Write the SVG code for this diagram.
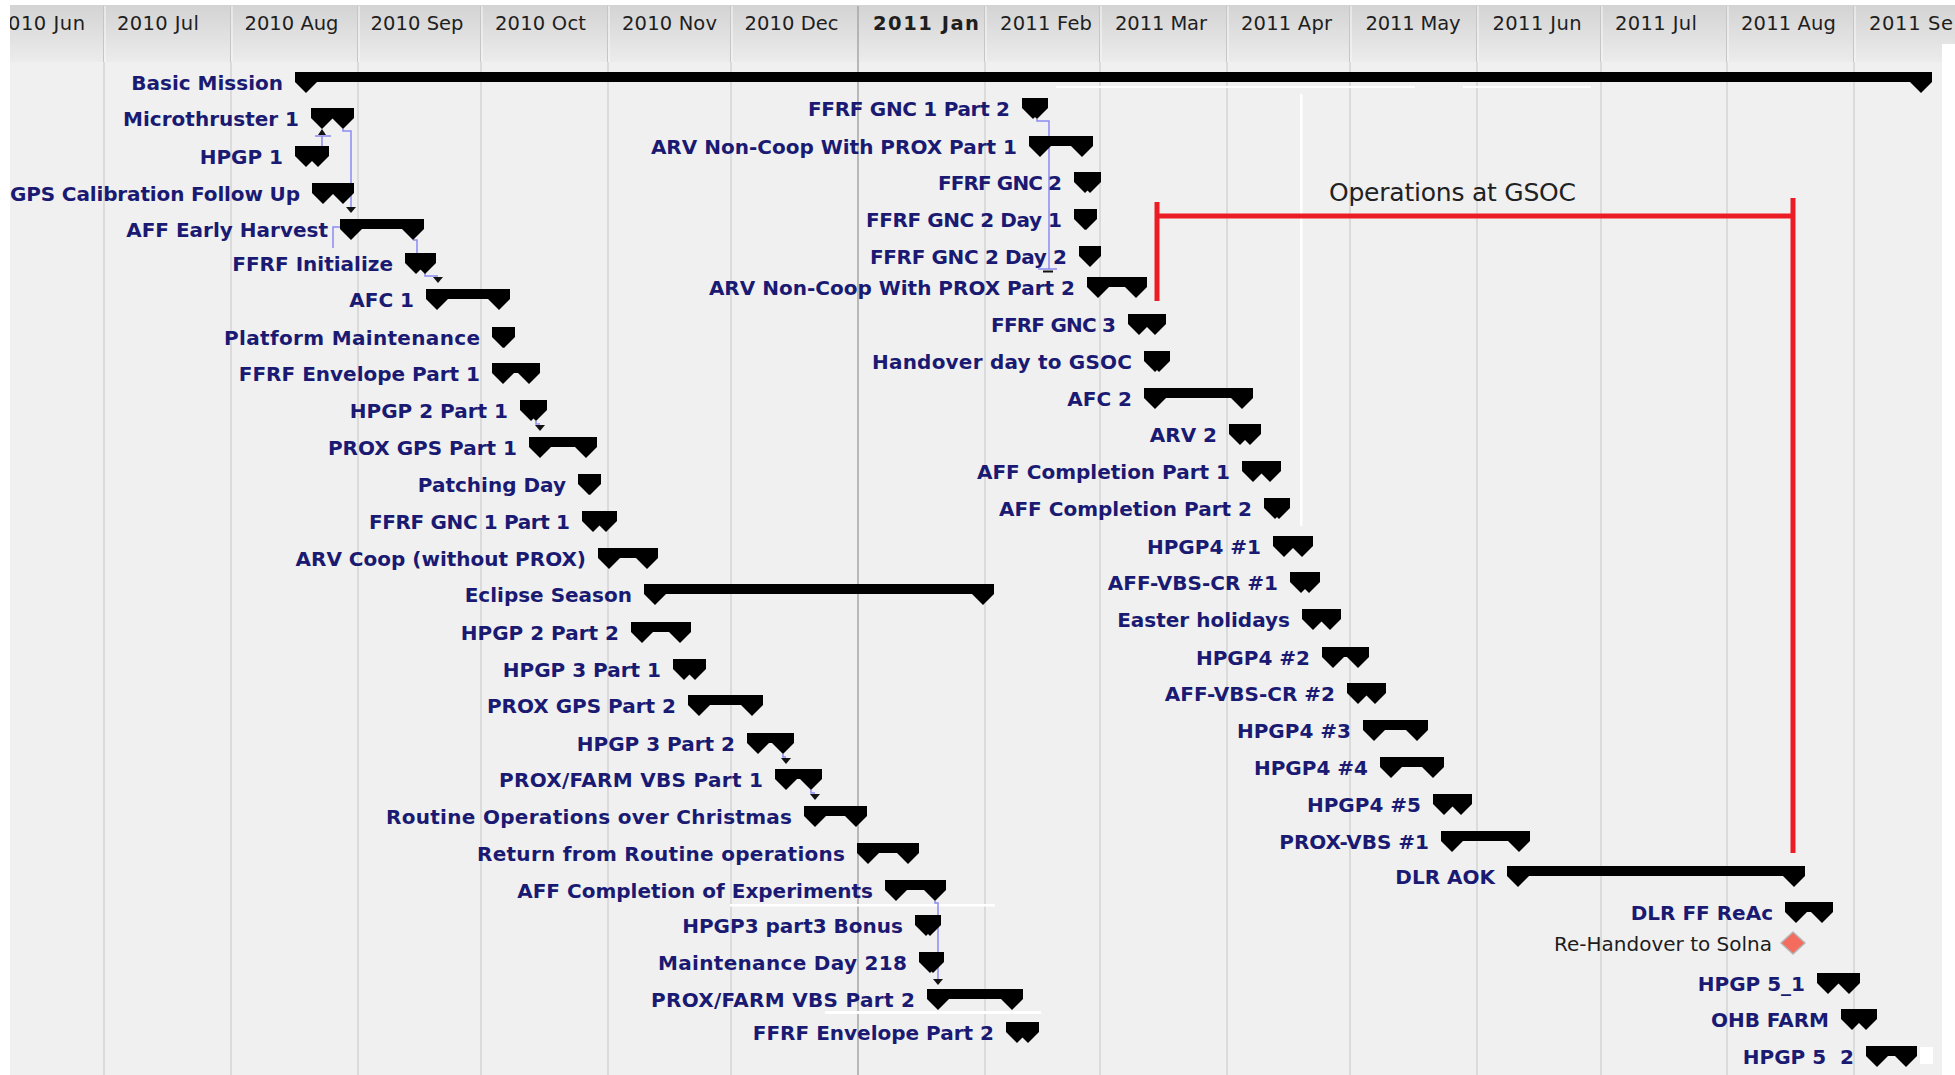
<svg xmlns="http://www.w3.org/2000/svg" width="1955" height="1075" viewBox="0 0 1955 1075">
<defs>
<linearGradient id="hdr" x1="0" y1="0" x2="0" y2="1">
<stop offset="0" stop-color="#d3d3d3"/>
<stop offset="1" stop-color="#ececec"/>
</linearGradient>
<path id="cap" d="M0,0 H22 V10 L11,21 L0,10 Z"/>
<style>
.lbl{font-family:"DejaVu Sans","Liberation Sans",sans-serif;font-weight:bold;font-size:20px;fill:#1a1a72;text-anchor:end}
.mon{font-family:"DejaVu Sans","Liberation Sans",sans-serif;font-size:19.5px;fill:#1e1e1e}
.reg{font-family:"DejaVu Sans","Liberation Sans",sans-serif;font-size:20px;fill:#1c1c1c}
.bar{fill:#000}
.grid{stroke:#d5d5d5;stroke-width:1.5}
.hsep{stroke:#c6c6c6;stroke-width:1}
.hsepl{stroke:#f8f8f8;stroke-width:1}
.dep{fill:none;stroke:#8a8af2;stroke-width:1.5}
.arr{fill:#111}
.ops{fill:none;stroke:#ec1c24;stroke-width:5}
.wht{fill:#ffffff}
</style>
</defs>

<!-- background -->
<rect x="0" y="0" width="1955" height="1075" fill="#ffffff"/>
<rect x="10" y="5" width="1932" height="1070" fill="#f0f0f0"/>
<rect x="10" y="5" width="1945" height="57" fill="url(#hdr)"/>

<!-- grid -->
<g id="grid">
<g class="grid">
<line x1="104" y1="62" x2="104" y2="1075"/>
<line x1="231" y1="62" x2="231" y2="1075"/>
<line x1="358" y1="62" x2="358" y2="1075"/>
<line x1="481" y1="62" x2="481" y2="1075"/>
<line x1="608" y1="62" x2="608" y2="1075"/>
<line x1="731" y1="62" x2="731" y2="1075"/>
<line x1="985" y1="62" x2="985" y2="1075"/>
<line x1="1100" y1="62" x2="1100" y2="1075"/>
<line x1="1227" y1="62" x2="1227" y2="1075"/>
<line x1="1350" y1="62" x2="1350" y2="1075"/>
<line x1="1477" y1="62" x2="1477" y2="1075"/>
<line x1="1601" y1="62" x2="1601" y2="1075"/>
<line x1="1727" y1="62" x2="1727" y2="1075"/>
<line x1="1854" y1="62" x2="1854" y2="1075"/>
</g>
<g class="hsep">
<line x1="103.5" y1="6" x2="103.5" y2="62"/>
<line x1="230.5" y1="6" x2="230.5" y2="62"/>
<line x1="357.5" y1="6" x2="357.5" y2="62"/>
<line x1="480.5" y1="6" x2="480.5" y2="62"/>
<line x1="607.5" y1="6" x2="607.5" y2="62"/>
<line x1="730.5" y1="6" x2="730.5" y2="62"/>
<line x1="984.5" y1="6" x2="984.5" y2="62"/>
<line x1="1099.5" y1="6" x2="1099.5" y2="62"/>
<line x1="1226.5" y1="6" x2="1226.5" y2="62"/>
<line x1="1349.5" y1="6" x2="1349.5" y2="62"/>
<line x1="1476.5" y1="6" x2="1476.5" y2="62"/>
<line x1="1600.5" y1="6" x2="1600.5" y2="62"/>
<line x1="1726.5" y1="6" x2="1726.5" y2="62"/>
<line x1="1853.5" y1="6" x2="1853.5" y2="62"/>
</g>
<g class="hsepl">
<line x1="105" y1="6" x2="105" y2="62"/>
<line x1="232" y1="6" x2="232" y2="62"/>
<line x1="359" y1="6" x2="359" y2="62"/>
<line x1="482" y1="6" x2="482" y2="62"/>
<line x1="609" y1="6" x2="609" y2="62"/>
<line x1="732" y1="6" x2="732" y2="62"/>
<line x1="986" y1="6" x2="986" y2="62"/>
<line x1="1101" y1="6" x2="1101" y2="62"/>
<line x1="1228" y1="6" x2="1228" y2="62"/>
<line x1="1351" y1="6" x2="1351" y2="62"/>
<line x1="1478" y1="6" x2="1478" y2="62"/>
<line x1="1602" y1="6" x2="1602" y2="62"/>
<line x1="1728" y1="6" x2="1728" y2="62"/>
<line x1="1855" y1="6" x2="1855" y2="62"/>
</g>
<line x1="858" y1="6" x2="858" y2="1075" stroke="#a6a6a6" stroke-width="1.5"/>
</g>

<!-- timescale labels -->
<g id="timescale">
<text class="mon" x="8" y="30" textLength="77">010 Jun</text>
<text class="mon" x="117" y="30" textLength="82">2010 Jul</text>
<text class="mon" x="244.5" y="30" textLength="94">2010 Aug</text>
<text class="mon" x="370.5" y="30" textLength="93">2010 Sep</text>
<text class="mon" x="495" y="30" textLength="91">2010 Oct</text>
<text class="mon" x="622" y="30" textLength="95">2010 Nov</text>
<text class="mon" x="744.5" y="30" textLength="94">2010 Dec</text>
<text class="mon" x="873" y="30" textLength="106" font-weight="bold">2011 Jan</text>
<text class="mon" x="1000" y="30" textLength="92">2011 Feb</text>
<text class="mon" x="1115" y="30" textLength="92">2011 Mar</text>
<text class="mon" x="1241" y="30" textLength="91">2011 Apr</text>
<text class="mon" x="1365.5" y="30" textLength="95">2011 May</text>
<text class="mon" x="1492.5" y="30" textLength="89">2011 Jun</text>
<text class="mon" x="1615" y="30" textLength="82">2011 Jul</text>
<text class="mon" x="1741" y="30" textLength="95">2011 Aug</text>
<text class="mon" x="1869" y="30" textLength="84">2011 Se</text>
</g>

<!-- frame strips and stitching artefacts -->
<g id="strips">
<rect class="wht" x="0" y="0" width="10" height="1075"/>
<rect class="wht" x="0" y="0" width="1955" height="5"/>
<rect class="wht" x="1942" y="44" width="13" height="1031"/>
<rect class="wht" x="1300" y="94" width="2.5" height="432"/>
<rect class="wht" x="1056" y="86" width="359" height="2"/>
<rect class="wht" x="1463" y="86" width="128" height="2"/>
<rect class="wht" x="730" y="904" width="265" height="2.5"/>
<rect class="wht" x="825" y="1011" width="216" height="3"/>
<rect class="wht" x="1920" y="1047" width="13" height="17"/>
</g>

<!-- connectors -->
<g id="connectors">
<polyline class="dep" points="315,136 331,136"/>
<polyline class="dep" points="322,146 322,136"/>
<path class="arr" d="M318,135 L326,135 L322,129 Z"/>
<polyline class="dep" points="343,129 343,131 351,131 351,207"/>
<path class="arr" d="M346,207 L356,207 L351,213 Z"/>
<polyline class="dep" points="340,227 333,227 333,248"/>
<polyline class="dep" points="413,240 417,240 417,253"/>
<polyline class="dep" points="425,273 425,276 438,276"/>
<path class="arr" d="M433,277 L443,277 L438,283 Z"/>
<polyline class="dep" points="536,421 536,424 540,424"/>
<path class="arr" d="M535,425 L545,425 L540,431 Z"/>
<polyline class="dep" points="783,754 783,757 786,757"/>
<path class="arr" d="M781,758 L791,758 L786,764 Z"/>
<polyline class="dep" points="811,790 811,793 815,793"/>
<path class="arr" d="M810,794 L820,794 L815,800 Z"/>
<polyline class="dep" points="935,901 935,903 938,903 938,979"/>
<path class="arr" d="M933,979 L943,979 L938,985 Z"/>
<polyline class="dep" points="1037,119 1037,121 1049,121 1049,269"/>
<polyline class="dep" points="1038,269 1057,269"/>
<line x1="1043" y1="271.5" x2="1053" y2="271.5" stroke="#111" stroke-width="2"/>
</g>

<!-- tasks, left column -->
<g id="t01"><text class="lbl" x="283" y="90">Basic Mission</text><rect class="bar" x="295" y="72" width="1637" height="10"/><use href="#cap" x="295" y="72"/><use href="#cap" x="1910" y="72"/></g>
<g id="t02"><text class="lbl" x="299" y="126">Microthruster 1</text><rect class="bar" x="311" y="108" width="43" height="10"/><use href="#cap" x="311" y="108"/><use href="#cap" x="332" y="108"/></g>
<g id="t03"><text class="lbl" x="283" y="164">HPGP 1</text><rect class="bar" x="295" y="146" width="34" height="10"/><use href="#cap" x="295" y="146"/><use href="#cap" x="307" y="146"/></g>
<g id="t04"><text class="lbl" x="300" y="201" textLength="290">GPS Calibration Follow Up</text><rect class="bar" x="312" y="183" width="42" height="10"/><use href="#cap" x="312" y="183"/><use href="#cap" x="332" y="183"/></g>
<g id="t05"><text class="lbl" x="328" y="237">AFF Early Harvest</text><rect class="bar" x="340" y="219" width="84" height="10"/><use href="#cap" x="340" y="219"/><use href="#cap" x="402" y="219"/></g>
<g id="t06"><text class="lbl" x="393" y="271">FFRF Initialize</text><rect class="bar" x="405" y="253" width="31" height="10"/><use href="#cap" x="405" y="253"/><use href="#cap" x="414" y="253"/></g>
<g id="t07"><text class="lbl" x="414" y="307">AFC 1</text><rect class="bar" x="426" y="289" width="84" height="10"/><use href="#cap" x="426" y="289"/><use href="#cap" x="488" y="289"/></g>
<g id="t08"><text class="lbl" x="480" y="345" textLength="256">Platform Maintenance</text><rect class="bar" x="492" y="327" width="23" height="10"/><use href="#cap" x="492" y="327"/><use href="#cap" x="493" y="327"/></g>
<g id="t09"><text class="lbl" x="480" y="381">FFRF Envelope Part 1</text><rect class="bar" x="492" y="363" width="48" height="10"/><use href="#cap" x="492" y="363"/><use href="#cap" x="518" y="363"/></g>
<g id="t10"><text class="lbl" x="508" y="418">HPGP 2 Part 1</text><rect class="bar" x="520" y="400" width="27" height="10"/><use href="#cap" x="520" y="400"/><use href="#cap" x="525" y="400"/></g>
<g id="t11"><text class="lbl" x="517" y="455">PROX GPS Part 1</text><rect class="bar" x="529" y="437" width="68" height="10"/><use href="#cap" x="529" y="437"/><use href="#cap" x="575" y="437"/></g>
<g id="t12"><text class="lbl" x="566" y="492">Patching Day</text><rect class="bar" x="578" y="474" width="23" height="10"/><use href="#cap" x="578" y="474"/><use href="#cap" x="579" y="474"/></g>
<g id="t13"><text class="lbl" x="570" y="529" textLength="201">FFRF GNC 1 Part 1</text><rect class="bar" x="582" y="511" width="35" height="10"/><use href="#cap" x="582" y="511"/><use href="#cap" x="595" y="511"/></g>
<g id="t14"><text class="lbl" x="586" y="566">ARV Coop (without PROX)</text><rect class="bar" x="598" y="548" width="60" height="10"/><use href="#cap" x="598" y="548"/><use href="#cap" x="636" y="548"/></g>
<g id="t15"><text class="lbl" x="632" y="602">Eclipse Season</text><rect class="bar" x="644" y="584" width="350" height="10"/><use href="#cap" x="644" y="584"/><use href="#cap" x="972" y="584"/></g>
<g id="t16"><text class="lbl" x="619" y="640">HPGP 2 Part 2</text><rect class="bar" x="631" y="622" width="60" height="10"/><use href="#cap" x="631" y="622"/><use href="#cap" x="669" y="622"/></g>
<g id="t17"><text class="lbl" x="661" y="677">HPGP 3 Part 1</text><rect class="bar" x="673" y="659" width="33" height="10"/><use href="#cap" x="673" y="659"/><use href="#cap" x="684" y="659"/></g>
<g id="t18"><text class="lbl" x="676" y="713">PROX GPS Part 2</text><rect class="bar" x="688" y="695" width="75" height="10"/><use href="#cap" x="688" y="695"/><use href="#cap" x="741" y="695"/></g>
<g id="t19"><text class="lbl" x="735" y="751">HPGP 3 Part 2</text><rect class="bar" x="747" y="733" width="47" height="10"/><use href="#cap" x="747" y="733"/><use href="#cap" x="772" y="733"/></g>
<g id="t20"><text class="lbl" x="763" y="787" textLength="264">PROX/FARM VBS Part 1</text><rect class="bar" x="775" y="769" width="47" height="10"/><use href="#cap" x="775" y="769"/><use href="#cap" x="800" y="769"/></g>
<g id="t21"><text class="lbl" x="792" y="824" textLength="406">Routine Operations over Christmas</text><rect class="bar" x="804" y="806" width="63" height="10"/><use href="#cap" x="804" y="806"/><use href="#cap" x="845" y="806"/></g>
<g id="t22"><text class="lbl" x="845" y="861" textLength="368">Return from Routine operations</text><rect class="bar" x="857" y="843" width="62" height="10"/><use href="#cap" x="857" y="843"/><use href="#cap" x="897" y="843"/></g>
<g id="t23"><text class="lbl" x="873" y="898">AFF Completion of Experiments</text><rect class="bar" x="885" y="880" width="61" height="10"/><use href="#cap" x="885" y="880"/><use href="#cap" x="924" y="880"/></g>
<g id="t24"><text class="lbl" x="903" y="933">HPGP3 part3 Bonus</text><rect class="bar" x="915" y="915" width="26" height="10"/><use href="#cap" x="915" y="915"/><use href="#cap" x="919" y="915"/></g>
<g id="t25"><text class="lbl" x="907" y="970" textLength="249">Maintenance Day 218</text><rect class="bar" x="919" y="952" width="25" height="10"/><use href="#cap" x="919" y="952"/><use href="#cap" x="922" y="952"/></g>
<g id="t26"><text class="lbl" x="915" y="1007" textLength="264">PROX/FARM VBS Part 2</text><rect class="bar" x="927" y="989" width="96" height="10"/><use href="#cap" x="927" y="989"/><use href="#cap" x="1001" y="989"/></g>
<g id="t27"><text class="lbl" x="994" y="1040">FFRF Envelope Part 2</text><rect class="bar" x="1006" y="1022" width="33" height="10"/><use href="#cap" x="1006" y="1022"/><use href="#cap" x="1017" y="1022"/></g>

<!-- tasks, right column -->
<g id="t28"><text class="lbl" x="1010" y="116" textLength="202">FFRF GNC 1 Part 2</text><rect class="bar" x="1022" y="98" width="26" height="10"/><use href="#cap" x="1022" y="98"/><use href="#cap" x="1026" y="98"/></g>
<g id="t29"><text class="lbl" x="1017" y="154">ARV Non-Coop With PROX Part 1</text><rect class="bar" x="1029" y="136" width="64" height="10"/><use href="#cap" x="1029" y="136"/><use href="#cap" x="1071" y="136"/></g>
<g id="t30"><text class="lbl" x="1062" y="190" textLength="124">FFRF GNC 2</text><rect class="bar" x="1074" y="172" width="27" height="10"/><use href="#cap" x="1074" y="172"/><use href="#cap" x="1079" y="172"/></g>
<g id="t31"><text class="lbl" x="1062" y="227" textLength="196">FFRF GNC 2 Day 1</text><rect class="bar" x="1074" y="209" width="23" height="10"/><use href="#cap" x="1074" y="209"/><use href="#cap" x="1075" y="209"/></g>
<g id="t32"><text class="lbl" x="1067" y="264" textLength="197">FFRF GNC 2 Day 2</text><rect class="bar" x="1079" y="246" width="22" height="10"/><use href="#cap" x="1079" y="246"/></g>
<g id="t33"><text class="lbl" x="1075" y="295">ARV Non-Coop With PROX Part 2</text><rect class="bar" x="1087" y="277" width="60" height="10"/><use href="#cap" x="1087" y="277"/><use href="#cap" x="1125" y="277"/></g>
<g id="t34"><text class="lbl" x="1116" y="332" textLength="125">FFRF GNC 3</text><rect class="bar" x="1128" y="314" width="38" height="10"/><use href="#cap" x="1128" y="314"/><use href="#cap" x="1144" y="314"/></g>
<g id="t35"><text class="lbl" x="1132" y="369" textLength="260">Handover day to GSOC</text><rect class="bar" x="1144" y="351" width="26" height="10"/><use href="#cap" x="1144" y="351"/><use href="#cap" x="1148" y="351"/></g>
<g id="t36"><text class="lbl" x="1132" y="406">AFC 2</text><rect class="bar" x="1144" y="388" width="109" height="10"/><use href="#cap" x="1144" y="388"/><use href="#cap" x="1231" y="388"/></g>
<g id="t37"><text class="lbl" x="1217" y="442">ARV 2</text><rect class="bar" x="1229" y="424" width="32" height="10"/><use href="#cap" x="1229" y="424"/><use href="#cap" x="1239" y="424"/></g>
<g id="t38"><text class="lbl" x="1230" y="479">AFF Completion Part 1</text><rect class="bar" x="1242" y="461" width="39" height="10"/><use href="#cap" x="1242" y="461"/><use href="#cap" x="1259" y="461"/></g>
<g id="t39"><text class="lbl" x="1252" y="516">AFF Completion Part 2</text><rect class="bar" x="1264" y="498" width="26" height="10"/><use href="#cap" x="1264" y="498"/><use href="#cap" x="1268" y="498"/></g>
<g id="t40"><text class="lbl" x="1261" y="554">HPGP4 #1</text><rect class="bar" x="1273" y="536" width="40" height="10"/><use href="#cap" x="1273" y="536"/><use href="#cap" x="1291" y="536"/></g>
<g id="t41"><text class="lbl" x="1278" y="590">AFF-VBS-CR #1</text><rect class="bar" x="1290" y="572" width="30" height="10"/><use href="#cap" x="1290" y="572"/><use href="#cap" x="1298" y="572"/></g>
<g id="t42"><text class="lbl" x="1290" y="627">Easter holidays</text><rect class="bar" x="1302" y="609" width="39" height="10"/><use href="#cap" x="1302" y="609"/><use href="#cap" x="1319" y="609"/></g>
<g id="t43"><text class="lbl" x="1310" y="665">HPGP4 #2</text><rect class="bar" x="1322" y="647" width="47" height="10"/><use href="#cap" x="1322" y="647"/><use href="#cap" x="1347" y="647"/></g>
<g id="t44"><text class="lbl" x="1335" y="701">AFF-VBS-CR #2</text><rect class="bar" x="1347" y="683" width="39" height="10"/><use href="#cap" x="1347" y="683"/><use href="#cap" x="1364" y="683"/></g>
<g id="t45"><text class="lbl" x="1351" y="738">HPGP4 #3</text><rect class="bar" x="1363" y="720" width="65" height="10"/><use href="#cap" x="1363" y="720"/><use href="#cap" x="1406" y="720"/></g>
<g id="t46"><text class="lbl" x="1368" y="775">HPGP4 #4</text><rect class="bar" x="1380" y="757" width="64" height="10"/><use href="#cap" x="1380" y="757"/><use href="#cap" x="1422" y="757"/></g>
<g id="t47"><text class="lbl" x="1421" y="812">HPGP4 #5</text><rect class="bar" x="1433" y="794" width="39" height="10"/><use href="#cap" x="1433" y="794"/><use href="#cap" x="1450" y="794"/></g>
<g id="t48"><text class="lbl" x="1429" y="849">PROX-VBS #1</text><rect class="bar" x="1441" y="831" width="89" height="10"/><use href="#cap" x="1441" y="831"/><use href="#cap" x="1508" y="831"/></g>
<g id="t49"><text class="lbl" x="1495" y="884">DLR AOK</text><rect class="bar" x="1507" y="866" width="298" height="10"/><use href="#cap" x="1507" y="866"/><use href="#cap" x="1783" y="866"/></g>
<g id="t50"><text class="lbl" x="1773" y="920">DLR FF ReAc</text><rect class="bar" x="1785" y="902" width="48" height="10"/><use href="#cap" x="1785" y="902"/><use href="#cap" x="1811" y="902"/></g>
<g id="t51"><text class="reg" x="1772" y="951" text-anchor="end">Re-Handover to Solna</text><polygon points="1793,932 1805,943 1793,954 1781,943" fill="#f36c5e" stroke="#b4b4b4" stroke-width="1.5" stroke-linejoin="round"/></g>
<g id="t52"><text class="lbl" x="1805" y="991">HPGP 5_1</text><rect class="bar" x="1817" y="973" width="43" height="10"/><use href="#cap" x="1817" y="973"/><use href="#cap" x="1838" y="973"/></g>
<g id="t53"><text class="lbl" x="1829" y="1027">OHB FARM</text><rect class="bar" x="1841" y="1009" width="36" height="10"/><use href="#cap" x="1841" y="1009"/><use href="#cap" x="1855" y="1009"/></g>
<g id="t54"><text class="lbl" x="1854" y="1064">HPGP 5&#160;&#160;2</text><rect class="bar" x="1866" y="1046" width="51" height="10"/><use href="#cap" x="1866" y="1046"/><use href="#cap" x="1895" y="1046"/></g>

<!-- operations bracket -->
<g id="ops">
<path class="ops" d="M1157,202 V301 M1155,216 H1795 M1793,198 V853"/>
<text x="1329" y="201" font-family="DejaVu Sans, Liberation Sans, sans-serif" font-size="25" fill="#222222" textLength="247">Operations at GSOC</text>
</g>
</svg>
